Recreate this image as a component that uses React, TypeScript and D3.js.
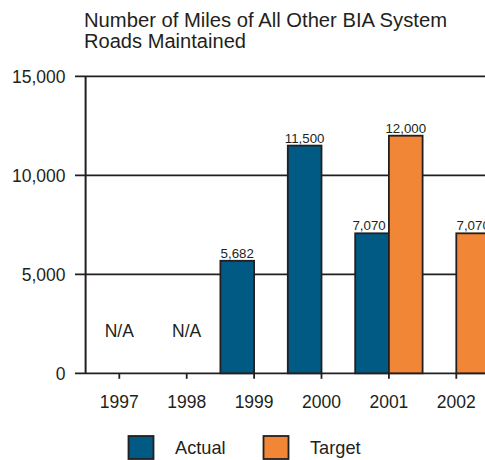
import React from "react";
import * as d3 from "d3";

const years = ["1997", "1998", "1999", "2000", "2001", "2002"];
const seriesNames = ["Actual", "Target"];
const actualValues: (number | null)[] = [null, null, 5682, 11500, 7070, null];
const targetValues: (number | null)[] = [null, null, null, null, 12000, 7070];
const naYears = ["1997", "1998"];
const yTicks = [0, 5000, 10000, 15000];
const titleLines = ["Number of Miles of All Other BIA System", "Roads Maintained"];
const titleWidths = [363, 162];
const colors = ["#005a84", "#f08636"];

const W = 485;
const H = 460;
const FONT = "'Liberation Sans', Arial, sans-serif";
const TEXT = "#231f20";

export default function App() {
  const x = d3.scaleBand<string>().domain(years).range([85.6, 85.6 + 6 * 67.4]).padding(0);
  const xs = d3.scaleBand<string>().domain(seriesNames).range([0, x.bandwidth()]).padding(0);
  const y = d3.scaleLinear().domain([0, 15000]).range([373.3, 76.3]);
  const fmt = d3.format(",");

  const bars: { year: string; s: string; v: number; i: number }[] = [];
  years.forEach((yr, k) => {
    const a = actualValues[k];
    const t = targetValues[k];
    if (a != null) bars.push({ year: yr, s: "Actual", v: a, i: 0 });
    if (t != null) bars.push({ year: yr, s: "Target", v: t, i: 1 });
  });

  return (
    <svg
      width={W}
      height={H}
      style={{ position: "absolute", left: 0, top: 0, background: "#fff" }}
      fontFamily={FONT}
    >
      <defs>
        <clipPath id="clip">
          <rect x={0} y={0} width={W} height={H} />
        </clipPath>
      </defs>
      {titleLines.map((t, i) => (
        <text
          key={t}
          x={84}
          y={27.3 + i * 21}
          fontSize={19.6}
          fill={TEXT}
          textLength={titleWidths[i]}
          lengthAdjust="spacingAndGlyphs"
        >
          {t}
        </text>
      ))}
      {/* gridlines + y ticks */}
      {yTicks.map((t) => (
        <g key={t}>
          <line x1={75} x2={W} y1={y(t)} y2={y(t)} stroke={TEXT} strokeWidth={1.8} />
          <text x={65.5} y={y(t) + 6.3} textAnchor="end" fontSize={17.5} fill={TEXT}>
            {fmt(t)}
          </text>
        </g>
      ))}
      {/* y axis line */}
      <line x1={85.6} x2={85.6} y1={y(15000)} y2={y(0)} stroke={TEXT} strokeWidth={2} />
      {/* bars */}
      <g clipPath="url(#clip)">
        {bars.map((b) => {
          const bx = (x(b.year) as number) + (xs(b.s) as number);
          return (
            <g key={b.year + b.s}>
              <rect
                x={bx}
                y={y(b.v)}
                width={xs.bandwidth()}
                height={y(0) - y(b.v)}
                fill={colors[b.i]}
                stroke={TEXT}
                strokeWidth={1.8}
              />
              <text
                x={bx + xs.bandwidth() / 2 - (b.year === "2001" && b.s === "Actual" ? 3 : 0)}
                y={y(b.v) - 3}
                textAnchor="middle"
                fontSize={13.3}
                fill={TEXT}
              >
                {fmt(b.v)}
              </text>
            </g>
          );
        })}
      </g>
      {/* x ticks */}
      {years.map((yr) => {
        const cx = (x(yr) as number) + x.bandwidth() / 2;
        return (
          <g key={yr}>
            <line x1={cx} x2={cx} y1={y(0)} y2={y(0) + 5.5} stroke={TEXT} strokeWidth={1.8} />
            <text x={cx} y={408} textAnchor="middle" fontSize={17.5} fill={TEXT}>
              {yr}
            </text>
          </g>
        );
      })}
      {naYears.map((yr) => (
        <text
          key={yr}
          x={(x(yr) as number) + x.bandwidth() / 2}
          y={336.5}
          textAnchor="middle"
          fontSize={17.5}
          fill={TEXT}
        >
          N/A
        </text>
      ))}
      {/* legend */}
      {seriesNames.map((s, i) => (
        <g key={s} transform={`translate(${128.5 + i * 135},436)`}>
          <rect width={25} height={23} fill={colors[i]} stroke={TEXT} strokeWidth={1.8} />
          <text x={46.5} y={18.3} fontSize={18.2} fill={TEXT}>
            {s}
          </text>
        </g>
      ))}
    </svg>
  );
}
